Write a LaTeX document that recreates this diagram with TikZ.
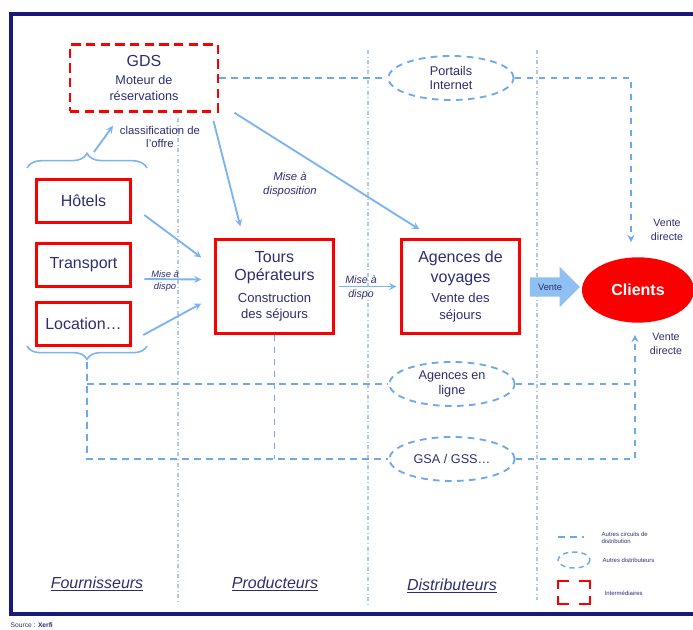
\documentclass[tikz,border=0pt]{standalone}
\usepackage{fontspec}
\setmainfont{Liberation Sans}
\usetikzlibrary{calc,shapes.geometric,shapes.arrows,decorations.pathreplacing}

\definecolor{cadre}{RGB}{25,25,125}
\definecolor{encre}{RGB}{45,45,115}
\definecolor{rouge}{RGB}{250,0,0}
\definecolor{bleuflux}{RGB}{125,180,240}
\definecolor{bleucircuit}{RGB}{110,170,235}
\definecolor{bleusep}{RGB}{175,202,232}

\newcommand{\grand}{\fontsize{12}{14}\selectfont}

\tikzset{
  acteur/.style={draw=rouge, line width=2.2pt, text=encre, align=center,
    minimum width=71pt, minimum height=32pt, inner sep=2pt,
    font=\fontsize{12}{14}\selectfont},
  grosacteur/.style={acteur, minimum width=88pt, minimum height=70pt,
    font=\fontsize{9.8}{12.5}\selectfont},
  flux/.style={draw=bleuflux, line width=1.4pt, -stealth},
  circuit/.style={draw=bleucircuit, line width=1.4pt, dash pattern=on 5pt off 4pt},
  distrib/.style={ellipse, circuit, minimum width=94pt, minimum height=33pt,
    inner sep=0pt, text=encre, align=center, font=\fontsize{9.5}{11}\selectfont},
  separateur/.style={draw=bleusep, line width=0.8pt,
    dash pattern=on 3pt off 2pt on 0.6pt off 2pt},
  petit/.style={text=encre, align=center, font=\fontsize{8}{10}\selectfont},
  colonne/.style={text=encre, font=\fontsize{12}{14}\selectfont\itshape},
  legende/.style={text=encre, anchor=west, align=left,
    font=\fontsize{4.5}{5}\selectfont}
}

\begin{document}
\begin{tikzpicture}[x=0.75pt, y=-0.75pt]
    \useasboundingbox (0,0) rectangle (693,630);

    % cadre
    \draw[cadre, line width=2.3pt] (700,14) -- (11,14) -- (11,614) -- (700,614);

    % separateurs de colonnes
    \draw[separateur] (178,118) -- (178,602);
    \draw[separateur] (368,50) -- (368,604);
    \draw[separateur] (537,50) -- (537,600);

    % acteurs
    \node[acteur, dash pattern=on 7pt off 4pt, minimum width=111pt,
        minimum height=50pt, font=\fontsize{9.5}{12}\selectfont] (gds) at (144,78)
        {\grand GDS\\[1.5pt]Moteur de\\réservations};
    \node[acteur] (hotels) at (83.5,201) {Hôtels};
    \node[acteur] (transport) at (83.5,265) {Transport};
    \node[acteur] (location) at (83.5,324) {Location\ldots};
    \node[grosacteur] (tours) at (274.5,286.5)
        {\grand Tours\\[1.5pt]\grand Opérateurs\\[3.5pt]Construction\\des séjours};
    \node[grosacteur] (agences) at (460.5,286.5)
        {\grand Agences de\\[2.5pt]\grand voyages\\[3pt]Vente des\\séjours};
    \node[ellipse, fill=rouge, minimum width=84pt, minimum height=49pt,
        text=white, font=\bfseries\fontsize{12}{14}\selectfont]
        (clients) at (638,290) {Clients};
    \node[single arrow, fill=bleuflux!85, minimum height=37.5pt,
        single arrow head extend=8pt, inner xsep=2pt, inner ysep=4.5pt,
        text=encre, font=\fontsize{7}{8}\selectfont]
        (vente) at (550,287) {Vente};

    % autres distributeurs
    \node[distrib] (portails) at (451,78) {Portails\\Internet};
    \node[distrib] (enligne) at (452,384) {Agences en\\ligne};
    \node[distrib] (gsa) at (452,459) {GSA / GSS\ldots};

    % etiquettes
    \node[petit, font=\fontsize{8.5}{10}\selectfont] (classif) at (160,137)
        {classification de\\l'offre};
    \node[petit, font=\fontsize{8.5}{10.5}\selectfont\itshape] (misedisp) at (290,185)
        {Mise à\\disposition};
    \node[petit, font=\fontsize{7}{9.5}\selectfont\itshape] (md1) at (165,281)
        {Mise à\\dispo};
    \node[petit, font=\fontsize{8}{10.5}\selectfont\itshape] (md2) at (361,288)
        {Mise à\\dispo};
    \node[petit] (vdhaut) at (667,230) {Vente\\directe};
    \node[petit] (vdbas) at (666,344) {Vente\\directe};

    % accolades
    \draw[bleuflux, line width=1.2pt, decorate,
        decoration={brace, amplitude=11pt}] (27,168) -- (147,168);
    \draw[bleuflux, line width=1.2pt, decorate,
        decoration={brace, amplitude=10pt}] (147,346) -- (27,346);
    \coordinate (accha) at (94,152);
    \coordinate (accbas) at (87,362);

    % flux
    \draw[flux] (accha) -- ($(gds.south)+(-31,13)$);
    \draw[flux] ($(gds.south east)+(-6,8)$) -- ($(tours.north west)+(26,-12)$);
    \draw[flux] ($(gds.south east)+(15,0)$) -- ($(agences.north west)+(19,-9)$);
    \draw[flux] ($(hotels.east)+(12,14)$) -- ($(tours.west)+(-13,-29)$);
    \draw[flux] ($(transport.east)+(12,14)$) -- ($(tours.west)+(-13,-7)$);
    \draw[flux] ($(location.east)+(11,11)$) -- ($(tours.west)+(-13,17)$);
    \draw[flux] ($(tours.east)+(4,0)$) -- ($(agences.west)+(-4,0)$);

    % autres circuits
    \coordinate (vdb) at ($(clients.south)+(-3,12)$);
    \draw[circuit] (gds.east) -- (portails.west);
    \draw[circuit, -stealth] (portails.east) -| ($(clients.north)+(-7,-15)$);
    \draw[circuit] (accbas) |- (gsa.west);
    \draw[circuit] (accbas |- enligne) -- (enligne.west);
    \draw[circuit] (tours.south) -- (tours.south |- gsa);
    \draw[circuit] (enligne.east) -- (enligne.east -| vdb);
    \draw[circuit, -stealth] (gsa.east) -| (vdb);

    % colonnes
    \node[colonne] (fourn) at (97,584) {\underline{Fournisseurs}};
    \node[colonne] (prod) at (275,584) {\underline{Producteurs}};
    \node[colonne] (distr) at (452,586) {\underline{Distributeurs}};

    % legende
    \draw[circuit] (558,537) -- (584,537);
    \node[legende] (leg1) at (597,538) {Autres circuits de\\distribution};
    \draw[circuit, line width=1.1pt, dash pattern=on 4pt off 3pt]
        (574,560) ellipse [x radius=16, y radius=8];
    \node[legende] (leg2) at (598,560) {Autres distributeurs};
    \foreach \cx/\cy/\dx/\dy in {558/581/1/1, 590/581/-1/1, 558/604/1/-1, 590/604/-1/-1}
        \draw[rouge, line width=2.2pt] (\cx+11*\dx,\cy) -- (\cx,\cy) -- (\cx,\cy+8*\dy);
    \node[legende] (leg3) at (600,593) {Intermédiaires};

    \node[legende, font=\fontsize{5}{6}\selectfont] (source) at (6,625)
        {Source : \textbf{Xerfi}};
\end{tikzpicture}
\end{document}
